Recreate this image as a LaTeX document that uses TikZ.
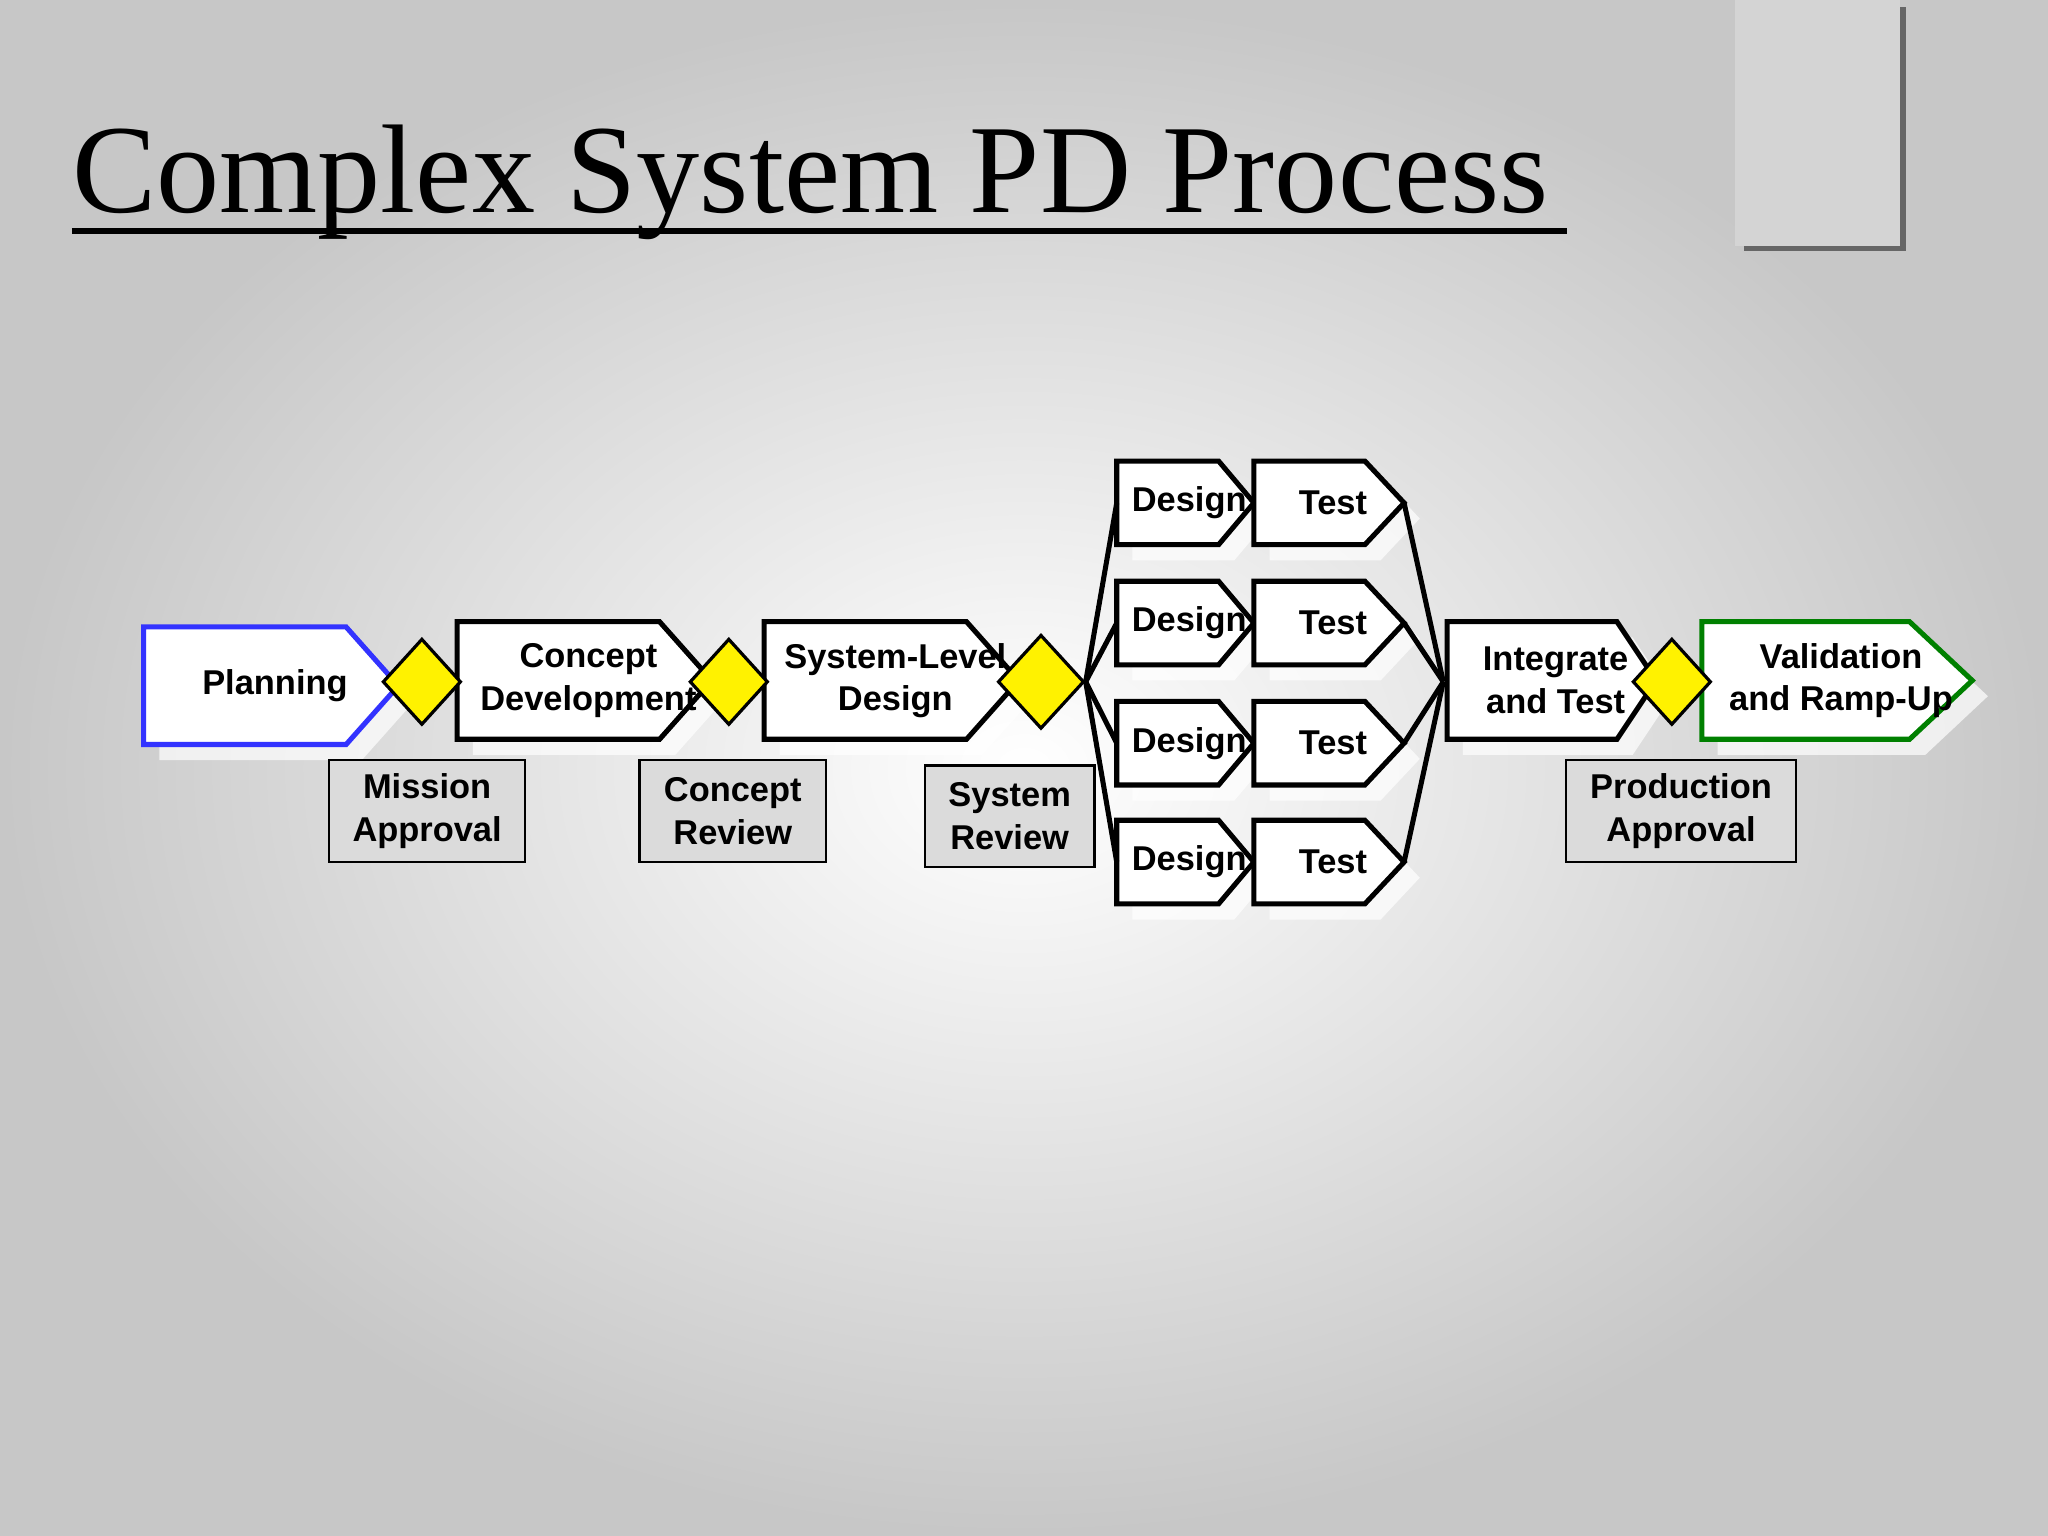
\documentclass[tikz,border=0pt]{standalone}
\usepackage{fontspec}
\setmainfont{Liberation Serif}
\setsansfont{Liberation Sans}
\usetikzlibrary{shapes.geometric}
\newcommand{\abox}[8]{% name, x1, xe, xt, ytop, ybot, color, text
  \fill[white,opacity=0.7] (#2+12,#5+12) -- (#3+12,#5+12) -- (#4+12,{(#5+#6)/2+12}) -- (#3+12,#6+12) -- (#2+12,#6+12) -- cycle;
  \draw[line width=2.2pt,#7,fill=white,line join=miter] (#2,#5) -- (#3,#5) -- (#4,{(#5+#6)/2}) -- (#3,#6) -- (#2,#6) -- cycle;
  \coordinate (#1w) at (#2,{(#5+#6)/2});
  \coordinate (#1t) at (#4,{(#5+#6)/2});
  \node[btxt] (#1) at ({(#2+#4)/2+3},{(#5+#6)/2}) {#8};}
\tikzset{
  btxt/.style={font=\sffamily\bfseries\fontsize{15}{18.5}\selectfont,align=center,inner sep=0pt},
  gate/.style={diamond,draw=black,line width=1.4pt,fill=yellow,minimum width=1.2cm,minimum height=1.32cm,inner sep=0pt},
  lab/.style={draw=black,line width=1pt,fill=black!14,font=\sffamily\bfseries\fontsize{15}{18.5}\selectfont,align=center,inner sep=0pt},
  fan/.style={line width=2.2pt}
}
\begin{document}
\begin{tikzpicture}[x=0.02cm,y=-0.02cm]
\useasboundingbox (0,0) rectangle (1568,1176);
\shade[inner color=white,outer color=black!22] (0,0) rectangle (1568,1176);
% corner box
\fill[black!60] (1335,5) rectangle (1459,192);
\fill[black!17] (1328,0) rectangle (1455,188);
% title
\node[anchor=base west,inner sep=0pt,font=\fontsize{55}{60}\selectfont] (title) at (55,163) {Complex System PD Process};
\draw[line width=2.5pt] (55,177) -- (1200,177);
% main boxes
\abox{plan}{110}{265}{305}{480}{570}{blue!80}{Planning}
\abox{cd}{350}{505}{545}{476}{566}{black}{Concept\\Development}
\abox{sl}{585}{740}{780}{476}{566}{black}{System-Level\\Design}
\abox{it}{1108}{1238}{1268}{476}{566}{black}{Integrate\\and Test}
\abox{val}{1303}{1462}{1510}{476}{566}{green!50!black}{Validation\\and Ramp-Up}
% design/test rows
\foreach \i/\y in {1/385,2/477,3/569,4/660}{
  \abox{d\i}{855}{933}{960}{\y-32}{\y+32}{black}{Design}
  \abox{t\i}{960}{1045}{1075}{\y-32}{\y+32}{black}{Test}
}
% gates
\node[gate] (g1) at (323,522) {};
\node[gate] (g2) at (558,522) {};
\node[gate,minimum width=1.32cm,minimum height=1.44cm] (g3) at (797,522) {};
\node[gate] (g4) at (1280,522) {};
\coordinate (itw) at (1105,522);
\foreach \i in {1,...,4}{
  \draw[fan] (g3.east) -- (d\i w);
  \draw[fan] (t\i t) -- (itw);
}
% labels
\node[lab,minimum width=3cm,minimum height=1.56cm] (ma) at (327,621) {Mission\\Approval};
\node[lab,minimum width=2.86cm,minimum height=1.56cm] (cr) at (561,621) {Concept\\Review};
\node[lab,minimum width=2.6cm,minimum height=1.56cm] (sr) at (773,625) {System\\Review};
\node[lab,minimum width=3.52cm,minimum height=1.56cm] (pa) at (1287,621) {Production\\Approval};
\end{tikzpicture}
\end{document}
